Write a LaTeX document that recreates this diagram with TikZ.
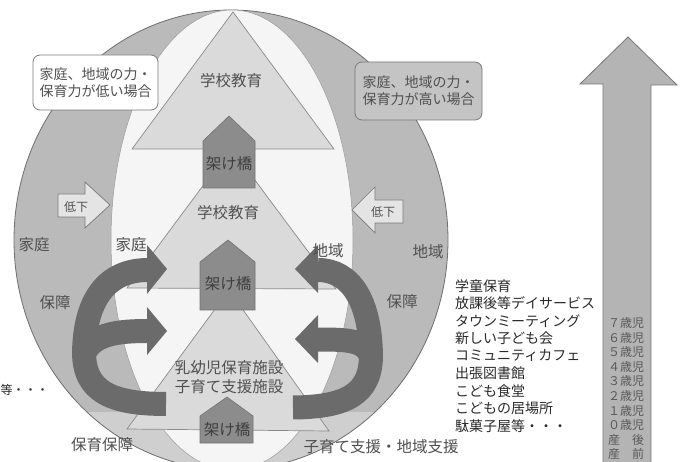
\documentclass[tikz,border=0pt]{standalone}
\usepackage{fontspec}
\setmainfont{Noto Sans CJK JP}
\definecolor{ringc}{HTML}{BABABA}
\definecolor{ringlow}{HTML}{CFCFCF}
\definecolor{ringline}{HTML}{6E6E6E}
\definecolor{lensc}{HTML}{F5F5F5}
\definecolor{lensline}{HTML}{9A9A9A}
\definecolor{tric}{HTML}{DADADA}
\definecolor{triline}{HTML}{8A8A8A}
\definecolor{housec}{HTML}{8C8C8C}
\definecolor{houseline}{HTML}{727272}
\definecolor{htext}{HTML}{3E3E3E}
\definecolor{arrc}{HTML}{6B6B6B}
\definecolor{txtc}{HTML}{505050}
\definecolor{darktxt}{HTML}{2A2A2A}
\definecolor{hiboxc}{HTML}{C4C4C4}
\definecolor{boxline}{HTML}{7A7A7A}
\definecolor{lowarrc}{HTML}{E4E4E4}
\definecolor{bigarrc}{HTML}{B4B4B4}
\definecolor{bigline}{HTML}{767676}
\definecolor{agec}{HTML}{585858}
\tikzset{
 lbl/.style={inner sep=0pt, text=txtc, font=\fontsize{15.5}{19}\selectfont},
 htxt/.style={inner sep=0pt, text=htext, font=\fontsize{15.5}{18}\selectfont},
 smalltxt/.style={inner sep=0pt, text=txtc, font=\fontsize{12}{14}\selectfont},
 boxtxt/.style={rounded corners=7pt, draw=boxline, line width=0.8pt, align=center, inner sep=0pt, text=txtc, font=\fontsize{14}{17}\selectfont},
 tri/.style={fill=tric, draw=triline, line width=0.7pt},
 house/.style={fill=housec, draw=houseline, line width=0.6pt},
 lowarr/.style={fill=lowarrc, draw=boxline, line width=0.7pt},
 band/.style={draw=arrc, line width=24pt},
 listtxt/.style={anchor=west, inner sep=0pt, text=darktxt, font=\fontsize{14}{16}\selectfont},
 agetxt/.style={inner sep=0pt, text=agec, font=\fontsize{12}{14}\selectfont},
}
\begin{document}
\begin{tikzpicture}[x=1pt,y=-1pt]
\useasboundingbox (0,0) rectangle (680,462);
\clip (0,0) rectangle (680,462);
\fill[white] (0,0) rectangle (680,462);
% outer ring and inner lens
\fill[ringc] (231,240) ellipse [x radius=217pt, y radius=230pt];
\begin{scope}
  \clip (0,412) rectangle (680,470);
  \fill[ringlow] (231,240) ellipse [x radius=217pt, y radius=230pt];
\end{scope}
\draw[ringline, line width=0.8pt] (231,240) ellipse [x radius=217pt, y radius=230pt];
\filldraw[fill=lensc, draw=lensline, line width=0.5pt] (232,240) ellipse [x radius=121pt, y radius=230pt];
% triangles
\filldraw[tri] (229,290) -- (127,429) -- (329,431) -- cycle;
\filldraw[tri] (231,148) -- (127,288) -- (336,289) -- cycle;
\filldraw[tri] (233,12) -- (132,149) -- (334,149) -- cycle;
% houses
\filldraw[house] (203,188) -- (203,141) -- (229,116) -- (255,141) -- (255,188) -- cycle;
\filldraw[house] (200,310) -- (200,262) -- (228,240) -- (255,262) -- (255,310) -- cycle;
\filldraw[house] (200,443) -- (200,416) -- (227,397) -- (253,416) -- (253,443) -- cycle;
\node[htxt] (h1t) at (229,164) {架け橋};
\node[htxt] (h2t) at (228,284) {架け橋};
\node[htxt] (h3t) at (227,430) {架け橋};
% triangle labels
\node[lbl] (sch1) at (231,81) {学校教育};
\node[lbl] (sch2) at (228,213) {学校教育};
\node[lbl, align=center] (nursery) at (229,377) {乳幼児保育施設\\子育て支援施設};
% left curved arrows
\draw[band] (166,404) .. controls (112,404) and (84,392) .. (84,352);
\draw[band] (84,356) .. controls (84,298) and (108,270) .. (148,270);
\draw[band] (86,350) .. controls (96,334) and (118,331) .. (148,331);
\fill[arrc] (147,245) -- (167,269) -- (147,294) -- cycle;
\fill[arrc] (147,307) -- (167,331) -- (147,355) -- cycle;
% right curved arrows
\draw[band] (293,407.5) .. controls (345,407) and (371,395) .. (371,355);
\draw[band] (371,359) .. controls (371,300) and (350,270) .. (318,270);
\draw[band] (369,352) .. controls (362,340) and (345,339.5) .. (318,339.5);
\fill[arrc] (318,245) -- (295,269) -- (318,293) -- cycle;
\fill[arrc] (318,315) -- (295,339) -- (318,363) -- cycle;
% boxes
\node[boxtxt, fill=white, minimum width=125pt, minimum height=55pt] (boxL) at (95.5,82.5) {家庭、地域の力・\\保育力が低い場合};
\node[boxtxt, fill=hiboxc, minimum width=127pt, minimum height=58pt] (boxR) at (418.5,91) {家庭、地域の力・\\保育力が高い場合};
% decrease arrows
\filldraw[lowarr] (58,194) -- (85,194) -- (85,182) -- (110,205) -- (85,228) -- (85,217) -- (58,217) -- cycle;
\node[smalltxt] (lowL) at (76,207) {低下};
\filldraw[lowarr] (403,200) -- (375,200) -- (375,187) -- (352,210) -- (375,233) -- (375,223) -- (403,223) -- cycle;
\node[smalltxt] (lowR) at (383,212) {低下};
% side labels
\node[lbl] (fam1) at (34,245) {家庭};
\node[lbl] (fam2) at (131,245) {家庭};
\node[lbl] (reg2) at (328,251) {地域};
\node[lbl] (reg1) at (428,252) {地域};
\node[lbl] (hos1) at (55,303) {保障};
\node[lbl] (hos2) at (402,302) {保障};
\node[lbl] (botL) at (102,445) {保育保障};
\node[lbl] (botR) at (381,447) {子育て支援・地域支援};
\node[smalltxt, anchor=west, text=darktxt] (etcL) at (0.5,390) {等・・・};
% list
\foreach \t [count=\i] in {学童保育,放課後等デイサービス,タウンミーティング,新しい子ども会,コミュニティカフェ,出張図書館,こども食堂,こどもの居場所,駄菓子屋等・・・}
  \node[listtxt] (li\i) at (455,268.5+17.5*\i) {\t};
% big vertical arrow
\filldraw[fill=bigarrc, draw=bigline, line width=0.8pt] (603,475) -- (603,84) -- (580,84) -- (628,37) -- (677,85) -- (651,85) -- (651,475) -- cycle;
\foreach \t [count=\i] in {７歳児,６歳児,５歳児,４歳児,３歳児,２歳児,１歳児,０歳児,産　後,産　前}
  \node[agetxt] (age\i) at (626,308.4+14.6*\i) {\t};
\end{tikzpicture}
\end{document}
